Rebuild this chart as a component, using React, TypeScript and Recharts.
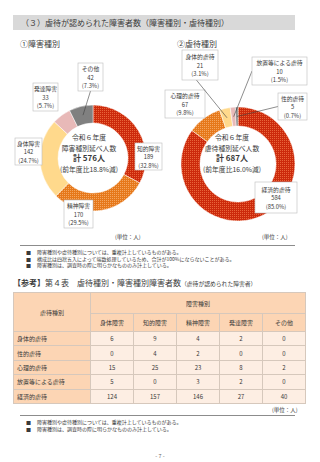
import { PieChart, Pie, Cell } from 'recharts';

// ①障害種別
const disabilityNames = ['知的障害', '精神障害', '身体障害', '発達障害', 'その他'];
const disabilityCounts = [189, 170, 142, 33, 42];

// ②虐待種別
const abuseNames = ['経済的虐待', '心理的虐待', '身体的虐待', '放置等による虐待', '性的虐待'];
const abuseCounts = [584, 67, 21, 10, 5];

// 第4表
const tableColumns = ['身体障害', '知的障害', '精神障害', '発達障害', 'その他'];
const tableRowNames = ['身体的虐待', '性的虐待', '心理的虐待', '放置等による虐待', '経済的虐待'];
const physicalRow = [6, 9, 4, 2, 0];
const sexualRow = [0, 4, 2, 0, 0];
const psychologicalRow = [15, 25, 23, 8, 2];
const neglectRow = [5, 0, 3, 2, 0];
const economicRow = [124, 157, 146, 27, 40];
const tableValues = [physicalRow, sexualRow, psychologicalRow, neglectRow, economicRow];

const notesTop = [
  '障害種別や虐待種別については、重複計上しているものがある。',
  '構成比は四捨五入によって端数処理しているため、合計が100%にならないことがある。',
  '障害種別は、調査時の際に明らかなもののみ計上している。',
];
const notesBottom = [
  '障害種別や虐待種別については、重複計上しているものがある。',
  '障害種別は、調査時の際に明らかなもののみ計上している。',
];

const SLICE_FILLS = ['url(#redDots)', 'url(#orangeDots)', '#ffd98c', '#e8b9b8', '#808080'];
const FONT = "'Noto Sans CJK JP', 'Noto Sans', sans-serif";
const TEXT = '#3a3a3a';
const RAD = Math.PI / 180;

const leftData = disabilityNames.map((name, i) => ({ name, value: disabilityCounts[i] }));
const rightData = abuseNames.map((name, i) => ({ name, value: abuseCounts[i] }));

// label box placement (chart coordinates), ax/ay = where the leader leaves the box
type Box = { x: number; y: number; w: number; h: number; line?: boolean; ax?: number; ay?: number };
const leftBoxes: Box[] = [
  { x: 135, y: 143, w: 27, h: 27 },
  { x: 64, y: 200, w: 29, h: 28 },
  { x: 15, y: 138, w: 27, h: 27 },
  { x: 33, y: 83, w: 25, h: 28 },
  { x: 78, y: 63, w: 25, h: 28, line: true, ax: 0.5, ay: 1 },
];
const rightBoxes: Box[] = [
  { x: 255, y: 182, w: 42, h: 31 },
  { x: 165, y: 90, w: 40, h: 28 },
  { x: 182, y: 50, w: 36, h: 30, line: true, ax: 0.4, ay: 1 },
  { x: 252, y: 57, w: 55, h: 28, line: true, ax: 0, ay: 0.5 },
  { x: 278, y: 93, w: 29, h: 27, line: true, ax: 0, ay: 0.5 },
];

function makeLabel(boxes: Box[]) {
  return (props: any) => {
    const { cx, cy, midAngle, innerRadius, outerRadius, index, name, value, percent } = props;
    const b = boxes[index];
    const r = (innerRadius + outerRadius) / 2;
    const px = cx + r * Math.cos(-midAngle * RAD);
    const py = cy + r * Math.sin(-midAngle * RAD);
    const tx = b.x + b.w / 2;
    return (
      <g key={`lbl-${index}`}>
        {b.line ? (
          <line
            x1={b.x + b.w * (b.ax ?? 0.5)}
            y1={b.y + b.h * (b.ay ?? 1)}
            x2={px}
            y2={py}
            stroke="#404040"
            strokeWidth={0.6}
          />
        ) : null}
        <rect x={b.x} y={b.y} width={b.w} height={b.h} fill="#fff" stroke="#bdbdbd" strokeWidth={0.6} />
        <text x={tx} textAnchor="middle" fontSize={5.8} fill={TEXT} fontFamily={FONT}>
          <tspan x={tx} y={b.y + b.h / 2 - 6}>{name}</tspan>
          <tspan x={tx} y={b.y + b.h / 2 + 2.5}>{value}</tspan>
          <tspan x={tx} y={b.y + b.h / 2 + 11}>({(percent * 100).toFixed(1)}%)</tspan>
        </text>
      </g>
    );
  };
}

function CenterText({ x, top, kind, total, change }: { x: number; top: number; kind: string; total: number; change: string }) {
  return (
    <div
      style={{
        position: 'absolute',
        left: x - 50,
        top,
        width: 100,
        textAlign: 'center',
        fontSize: 6.8,
        lineHeight: '10.7px',
        color: TEXT,
        whiteSpace: 'nowrap',
      }}
    >
      <div>令和６年度</div>
      <div>{kind}延べ人数</div>
      <div style={{ fontWeight: 700, fontSize: 8 }}>計 {total}人</div>
      <div>(前年度比{change}減)</div>
    </div>
  );
}

function Notes({ top, items }: { top: number; items: string[] }) {
  return (
    <div style={{ position: 'absolute', left: 26, top, fontSize: 5, lineHeight: '6.6px', color: TEXT }}>
      {items.map((t) => (
        <div key={t} style={{ whiteSpace: 'nowrap' }}>
          <span style={{ display: 'inline-block', width: 11 }}>■</span>
          {t}
        </div>
      ))}
    </div>
  );
}

const cellBorder = '1px solid #d6c8bc';
const headFill = '#fcd5b4';
const bodyFill = '#fdeee3';

export default function App() {
  const leftTotal = disabilityCounts.reduce((a, b) => a + b, 0);
  const rightTotal = abuseCounts.reduce((a, b) => a + b, 0);

  return (
    <div
      style={{
        position: 'absolute',
        left: 0,
        top: 0,
        width: 320,
        height: 462,
        overflow: 'hidden',
        background: '#fff',
        fontFamily: FONT,
        color: TEXT,
      }}
    >
      <div
        style={{
          position: 'absolute',
          left: 13,
          top: 15,
          width: 282,
          height: 15,
          background: '#d9d9d9',
          fontSize: 8,
          lineHeight: '15px',
          paddingLeft: 8,
          boxSizing: 'border-box',
        }}
      >
        （３）虐待が認められた障害者数（障害種別・虐待種別）
      </div>
      <div style={{ position: 'absolute', left: 20, top: 38, fontSize: 8 }}>①障害種別</div>
      <div style={{ position: 'absolute', left: 177, top: 38, fontSize: 8 }}>②虐待種別</div>

      <PieChart width={320} height={240} style={{ position: 'absolute', left: 0, top: 0 }}>
        <defs>
          <pattern id="redDots" width="2" height="2" patternUnits="userSpaceOnUse">
            <rect width="2" height="2" fill="#cc2a0c" />
            <rect width="1" height="1" fill="#e8653a" />
          </pattern>
          <pattern id="orangeDots" width="2" height="2" patternUnits="userSpaceOnUse">
            <rect width="2" height="2" fill="#e6781a" />
            <rect width="1" height="1" fill="#f3a660" />
          </pattern>
        </defs>
        <Pie
          data={leftData}
          dataKey="value"
          nameKey="name"
          cx={88}
          cy={153}
          innerRadius={35}
          outerRadius={53}
          startAngle={90}
          endAngle={-270}
          stroke="#fff"
          strokeWidth={0.5}
          labelLine={false}
          label={makeLabel(leftBoxes)}
          isAnimationActive={false}
        >
          {leftData.map((d, i) => (
            <Cell key={d.name} fill={SLICE_FILLS[i]} />
          ))}
        </Pie>
        <Pie
          data={rightData}
          dataKey="value"
          nameKey="name"
          cx={233}
          cy={159}
          innerRadius={38}
          outerRadius={57}
          startAngle={90}
          endAngle={-270}
          stroke="#fff"
          strokeWidth={0.5}
          labelLine={false}
          label={makeLabel(rightBoxes)}
          isAnimationActive={false}
        >
          {rightData.map((d, i) => (
            <Cell key={d.name} fill={SLICE_FILLS[i]} />
          ))}
        </Pie>
      </PieChart>

      <CenterText x={89} top={132} kind="障害種別" total={leftTotal} change="18.8%" />
      <CenterText x={232} top={132} kind="虐待種別" total={rightTotal} change="16.0%" />

      <div style={{ position: 'absolute', left: 115, top: 233, fontSize: 5.5 }}>(単位：人)</div>
      <div style={{ position: 'absolute', left: 262, top: 233, fontSize: 5.5 }}>(単位：人)</div>
      <div style={{ position: 'absolute', left: 20, top: 245, width: 275, height: 1, background: '#8c8c8c' }} />
      <Notes top={249} items={notesTop} />

      <div style={{ position: 'absolute', left: 13, top: 277, fontSize: 8, whiteSpace: 'nowrap' }}>
        <b>【参考】</b>第４表　虐待種別・障害種別障害者数
        <span style={{ fontSize: 5.8 }}>（虐待が認められた障害者）</span>
      </div>

      <table
        style={{
          position: 'absolute',
          left: 13,
          top: 292,
          width: 292,
          borderCollapse: 'collapse',
          tableLayout: 'fixed',
          fontSize: 6,
          color: TEXT,
        }}
      >
        <colgroup>
          <col style={{ width: 77 }} />
          {tableColumns.map((c) => (
            <col key={c} style={{ width: 43 }} />
          ))}
        </colgroup>
        <tbody>
          <tr style={{ height: 21 }}>
            <td rowSpan={2} style={{ background: headFill, border: cellBorder, textAlign: 'center', padding: 0 }}>
              虐待種別
            </td>
            <td colSpan={5} style={{ background: headFill, border: cellBorder, textAlign: 'center', padding: 0 }}>
              障害種別
            </td>
          </tr>
          <tr style={{ height: 18 }}>
            {tableColumns.map((c) => (
              <td key={c} style={{ background: headFill, border: cellBorder, textAlign: 'center', padding: 0 }}>
                {c}
              </td>
            ))}
          </tr>
          {tableRowNames.map((rowName, r) => (
            <tr key={rowName} style={{ height: 14.4 }}>
              <td style={{ background: headFill, border: cellBorder, paddingLeft: 3, paddingTop: 0, paddingBottom: 0 }}>
                {rowName}
              </td>
              {tableValues[r].map((v, c) => (
                <td
                  key={tableColumns[c]}
                  style={{ background: bodyFill, border: cellBorder, textAlign: 'center', padding: 0 }}
                >
                  {v}
                </td>
              ))}
            </tr>
          ))}
        </tbody>
      </table>

      <div style={{ position: 'absolute', left: 272, top: 406, fontSize: 5.5 }}>(単位：人)</div>
      <div style={{ position: 'absolute', left: 20, top: 415, width: 275, height: 1, background: '#8c8c8c' }} />
      <Notes top={419} items={notesBottom} />

      <div style={{ position: 'absolute', left: 0, top: 452, width: 320, textAlign: 'center', fontSize: 5.5, color: '#666' }}>
        - 7 -
      </div>
    </div>
  );
}
